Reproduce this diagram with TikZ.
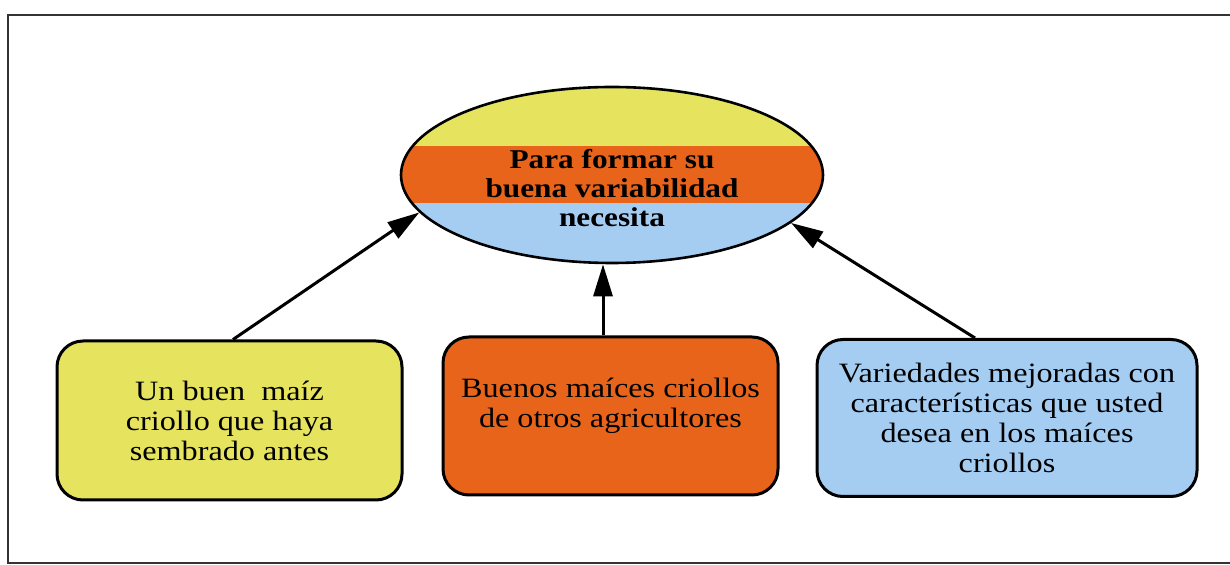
\documentclass[tikz,border=0pt]{standalone}
\usepackage{fontspec}
\setmainfont[FakeStretch=1.15]{Liberation Serif}
\usetikzlibrary{shapes.geometric,arrows.meta}
\definecolor{cyel}{RGB}{230,228,95}
\definecolor{cora}{RGB}{232,100,26}
\definecolor{cblu}{RGB}{165,205,242}
\begin{document}
\begin{tikzpicture}[x=0.5pt,y=-0.5pt,
  boxst/.style={draw, line width=1.5pt, rounded corners=13pt, align=center,
    inner sep=0pt, font=\fontsize{14}{15}\selectfont},
  conn/.style={line width=1.5pt, -{Triangle[length=16pt,width=9.5pt]}},
  goalst/.style={draw, ellipse, line width=1.3pt, inner sep=0pt,
    minimum width=211pt, minimum height=88pt},
  goaltextst/.style={inner sep=0pt, align=center,
    font=\fontsize{13.6}{14.6}\selectfont\bfseries}]
\useasboundingbox (0,0) rectangle (1230,565);
% frame
\draw[line width=1.1pt, black!80] (1235,15) -- (8,15) -- (8,563) -- (1235,563);
% ellipse bands
\begin{scope}
  \clip (612,175) ellipse [x radius=105.5pt, y radius=44pt];
  \fill[cyel] (395,80) rectangle (830,146);
  \fill[cora] (395,146) rectangle (830,203);
  \fill[cblu] (395,203) rectangle (830,270);
\end{scope}
\node[goalst] (goal) at (612,175) {};
\node[goaltextst] (goaltext) at (612,188)
  {Para formar su\\buena variabilidad\\necesita};
% boxes
\node[boxst, fill=cyel, minimum width=172.5pt, minimum height=79.5pt] (b1) at (229.5,420.5)
  {Un buen\ \ maíz\\criollo que haya\\sembrado antes};
\node[boxst, fill=cora, minimum width=167.5pt, minimum height=79pt] (b2) at (610.5,416)
  {Buenos maíces criollos\\de otros agricultores\\[-2pt]\mbox{}};
\node[boxst, fill=cblu, minimum width=190pt, minimum height=78.5pt] (b3) at (1007,418)
  {Variedades mejoradas con\\características que usted\\desea en los maíces\\criollos};
% connectors
\draw[conn] ([xshift=1.75pt]b1.north) -- (goal.191.6);
\draw[conn] ([xshift=-3.75pt]b2.north) -- ([xshift=-3.75pt]b2.north |- goal.south);
\draw[conn] ([xshift=-16pt]b3.north) -- (goal.345);
\end{tikzpicture}
\end{document}
